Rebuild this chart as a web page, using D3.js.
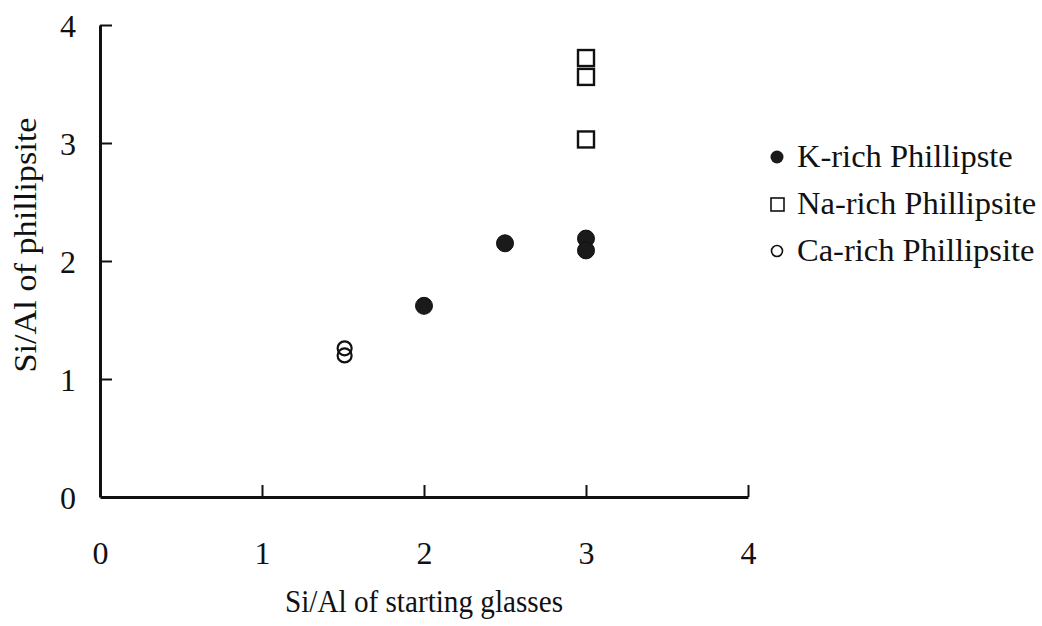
<!DOCTYPE html>
<html>
<head>
<meta charset="utf-8">
<script src="https://cdn.jsdelivr.net/npm/d3@7"></script>
<style>
  html, body { margin: 0; padding: 0; background: #fff; }
  svg { display: block; }
</style>
</head>
<body>
<svg id="chart" width="1042" height="626"></svg>
<script>
// ---- data ----
const kRichX = [2.0, 2.5, 3.0, 3.0];
const kRichY = [1.62, 2.15, 2.19, 2.09];
const naRichX = [3.0, 3.0, 3.0];
const naRichY = [3.72, 3.56, 3.03];
const caRichX = [1.51, 1.51];
const caRichY = [1.26, 1.20];
const xTicks = [0, 1, 2, 3, 4];
const yTicks = [0, 1, 2, 3, 4];
const legendLabels = ["K-rich Phillipste", "Na-rich Phillipsite", "Ca-rich Phillipsite"];
const xTitle = "Si/Al of starting glasses";
const yTitle = "Si/Al of phillipsite";

const SERIF = "'Liberation Serif', 'Times New Roman', Times, 'DejaVu Serif', serif";

// ---- layout ----
const svg = d3.select("#chart");
const x = d3.scaleLinear().domain([0, 4]).range([100, 748]);
const y = d3.scaleLinear().domain([0, 4]).range([497, 25]);

// x axis
const gx = svg.append("g").attr("transform", `translate(0,${y(0)})`)
  .call(d3.axisBottom(x).tickValues(xTicks).tickFormat(d3.format("d"))
    .tickSizeInner(-12).tickSizeOuter(0).tickPadding(44));
gx.attr("font-family", null);
gx.select(".domain").attr("stroke", "#111").attr("stroke-width", 3);
gx.selectAll(".tick line").attr("stroke", "#111").attr("stroke-width", 2);
gx.selectAll(".tick").filter(d => d === 0).select("line").remove();
gx.selectAll(".tick text").style("font-family", SERIF).style("font-size", "32px").attr("fill", "#111");

// y axis
const gy = svg.append("g").attr("transform", `translate(${x(0)},0)`)
  .call(d3.axisLeft(y).tickValues(yTicks).tickFormat(d3.format("d"))
    .tickSizeInner(-12).tickSizeOuter(0).tickPadding(24));
gy.attr("font-family", null);
gy.select(".domain").attr("stroke", "#111").attr("stroke-width", 3);
gy.selectAll(".tick line").attr("stroke", "#111").attr("stroke-width", 2);
gy.selectAll(".tick").filter(d => d === 0).select("line").remove();
gy.selectAll(".tick text").style("font-family", SERIF).style("font-size", "32px").attr("fill", "#111").attr("dy", "0.36em");

// ---- points ----
const kData = kRichX.map((v, i) => ({x: v, y: kRichY[i]}));
const naData = naRichX.map((v, i) => ({x: v, y: naRichY[i]}));
const caData = caRichX.map((v, i) => ({x: v, y: caRichY[i]}));

svg.append("g").selectAll("circle").data(caData).join("circle")
  .attr("cx", d => x(d.x)).attr("cy", d => y(d.y)).attr("r", 7)
  .attr("fill", "none").attr("stroke", "#111").attr("stroke-width", 2.2);

svg.append("g").selectAll("rect").data(naData).join("rect")
  .attr("x", d => x(d.x) - 8).attr("y", d => y(d.y) - 8)
  .attr("width", 16).attr("height", 16)
  .attr("fill", "#fff").attr("stroke", "#111").attr("stroke-width", 2.4);

svg.append("g").selectAll("circle").data(kData).join("circle")
  .attr("cx", d => x(d.x)).attr("cy", d => y(d.y)).attr("r", 8.5)
  .attr("fill", "#1a1a1a").attr("stroke", "#111").attr("stroke-width", 1);

// ---- titles ----
svg.append("text").attr("x", (x(0) + x(4)) / 2).attr("y", 612)
  .attr("text-anchor", "middle").style("font-family", SERIF).style("font-size", "31px").attr("fill", "#111")
  .attr("textLength", 278).attr("lengthAdjust", "spacingAndGlyphs")
  .text(xTitle);

svg.append("text")
  .attr("transform", `translate(36,${245}) rotate(-90)`)
  .attr("text-anchor", "middle").style("font-family", SERIF).style("font-size", "31px").attr("fill", "#111")
  .attr("textLength", 255).attr("lengthAdjust", "spacingAndGlyphs")
  .text(yTitle);

// ---- legend ----
const legendY = [157, 204, 251];
const lg = svg.append("g");
legendLabels.forEach((lab, i) => {
  const cy = legendY[i];
  if (i === 0) {
    lg.append("circle").attr("cx", 777).attr("cy", cy).attr("r", 6.5).attr("fill", "#1a1a1a");
  } else if (i === 1) {
    lg.append("rect").attr("x", 771).attr("y", cy - 6).attr("width", 13).attr("height", 13)
      .attr("fill", "none").attr("stroke", "#111").attr("stroke-width", 1.6);
  } else {
    lg.append("circle").attr("cx", 777).attr("cy", cy).attr("r", 5.5)
      .attr("fill", "none").attr("stroke", "#111").attr("stroke-width", 1.6);
  }
  lg.append("text").attr("x", 797).attr("y", cy + 10)
    .style("font-family", SERIF).style("font-size", "32.5px").attr("fill", "#111").text(lab);
});
</script>
</body>
</html>
